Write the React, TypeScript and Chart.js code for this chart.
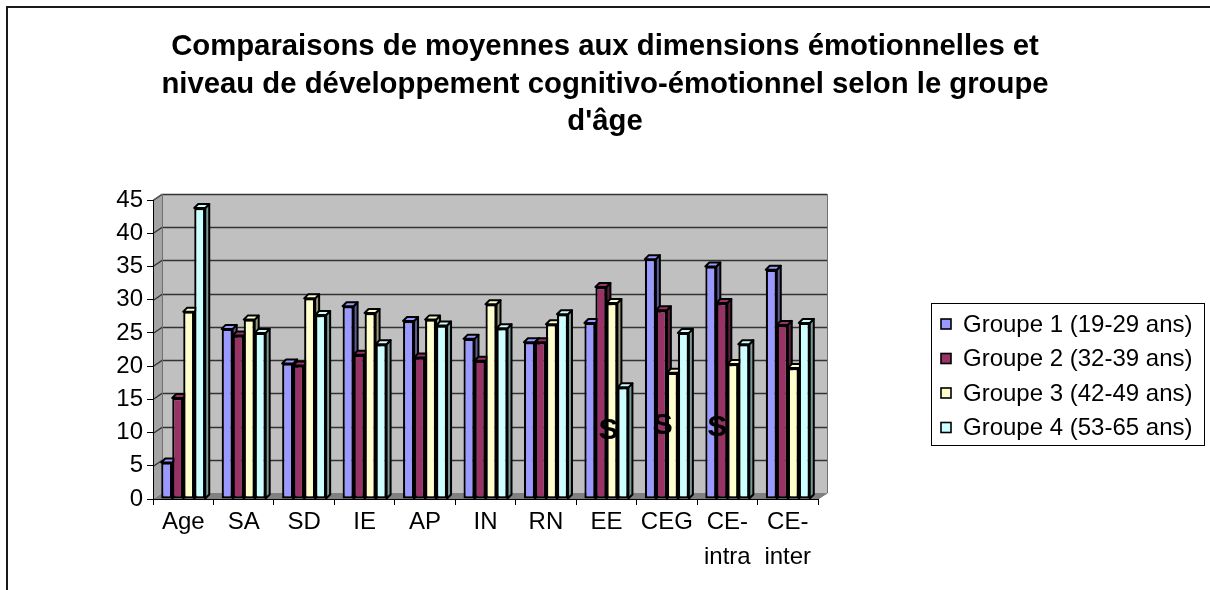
import React, { useEffect, useRef } from 'react';
import { Chart, registerables } from 'chart.js';

Chart.register(...registerables);

const FONT = '"Liberation Sans", Arial, sans-serif';

const titleLines = [
  'Comparaisons de moyennes aux dimensions émotionnelles et',
  'niveau de développement cognitivo-émotionnel selon le groupe',
  "d'âge",
];

const categories = ['Age', 'SA', 'SD', 'IE', 'AP', 'IN', 'RN', 'EE', 'CEG', 'CE-intra', 'CE-inter'];

const seriesNames = [
  'Groupe 1 (19-29 ans)',
  'Groupe 2 (32-39 ans)',
  'Groupe 3 (42-49 ans)',
  'Groupe 4 (53-65 ans)',
];

const group1 = [5.5, 25.6, 20.4, 29.0, 26.8, 24.1, 23.6, 26.5, 36.1, 35.0, 34.5];
const group2 = [15.2, 24.6, 20.1, 21.7, 21.3, 20.8, 23.6, 31.9, 28.4, 29.5, 26.2];
const group3 = [28.2, 27.0, 30.2, 28.0, 27.0, 29.3, 26.3, 29.5, 19.0, 20.3, 19.7];
const group4 = [43.8, 25.0, 27.7, 23.3, 26.1, 25.7, 27.8, 16.8, 25.0, 23.3, 26.5];

const yMin = 0;
const yMax = 45;
const yStep = 5;

// significance markers ("S") placed over categories, at a value on the y scale
const sigCategories = ['EE', 'CEG', 'CE-intra'];
const sigValues = [10.2, 11.1, 10.8];
const sigText = 'S';

const frontColors = ['#9999FF', '#993366', '#FFFFCC', '#CCFFFF'];
const sideColors = ['#5C5C99', '#5C1F3D', '#99997A', '#7A9999'];

const tickLabels = categories.map((c) => {
  const i = c.indexOf('-');
  return i > 0 ? [c.slice(0, i + 1), c.slice(i + 1)] : c;
});

const DX = 9;
const DY = 6;
const BDX = 4;
const BDY = 4;

const titlePlugin = {
  id: 'customTitle',
  afterDraw(chart: any) {
    const { ctx } = chart;
    ctx.save();
    ctx.fillStyle = '#000';
    ctx.font = `bold 29.3px ${FONT}`;
    ctx.textAlign = 'center';
    ctx.textBaseline = 'middle';
    titleLines.forEach((line, i) => {
      ctx.fillText(line, chart.width / 2, 47 + i * 37.5);
    });
    ctx.restore();
  },
};

const wallsPlugin = {
  id: 'walls3d',
  beforeDraw(chart: any) {
    const { ctx, chartArea } = chart;
    const { left, right, top, bottom } = chartArea;
    const yScale = chart.scales.y;
    ctx.save();
    ctx.fillStyle = '#C0C0C0';
    ctx.fillRect(left + DX, top - DY, right - left, bottom - top);
    ctx.fillStyle = '#A4A4A4';
    ctx.beginPath();
    ctx.moveTo(left, top);
    ctx.lineTo(left + DX, top - DY);
    ctx.lineTo(left + DX, bottom - DY);
    ctx.lineTo(left, bottom);
    ctx.closePath();
    ctx.fill();
    ctx.fillStyle = '#808080';
    ctx.beginPath();
    ctx.moveTo(left, bottom);
    ctx.lineTo(left + DX, bottom - DY);
    ctx.lineTo(right + DX, bottom - DY);
    ctx.lineTo(right, bottom);
    ctx.closePath();
    ctx.fill();
    ctx.strokeStyle = '#333333';
    ctx.lineWidth = 1.3;
    yScale.ticks.forEach((t: any) => {
      if (t.value === yMin) return;
      const y = Math.round(yScale.getPixelForValue(t.value)) + 0.5;
      ctx.beginPath();
      ctx.moveTo(left, y);
      ctx.lineTo(left + DX, y - DY);
      ctx.lineTo(right + DX, y - DY);
      ctx.stroke();
    });
    ctx.strokeStyle = '#707070';
    ctx.lineWidth = 1;
    ctx.beginPath();
    ctx.moveTo(left + DX + 0.5, bottom - DY);
    ctx.lineTo(left + DX + 0.5, top - DY);
    ctx.moveTo(right + DX + 0.5, top - DY);
    ctx.lineTo(right + DX + 0.5, bottom - DY);
    ctx.lineTo(right, bottom);
    ctx.moveTo(left, top);
    ctx.lineTo(left + DX, top - DY);
    ctx.stroke();
    ctx.restore();
  },
};

const bars3dPlugin = {
  id: 'bars3d',
  beforeDatasetsDraw(chart: any) {
    const { ctx } = chart;
    const n = chart.data.datasets.length;
    for (let d = 0; d < n; d++) {
      const meta = chart.getDatasetMeta(d);
      meta.data.forEach((bar: any) => {
        const { x, y, base, width } = bar.getProps(['x', 'y', 'base', 'width'], true);
        const l = x - width / 2;
        const r = x + width / 2;
        ctx.save();
        ctx.lineWidth = 2;
        ctx.strokeStyle = '#000';
        ctx.lineJoin = 'round';
        ctx.fillStyle = sideColors[d];
        ctx.beginPath();
        ctx.moveTo(r, y);
        ctx.lineTo(r + BDX, y - BDY);
        ctx.lineTo(r + BDX, base - BDY);
        ctx.lineTo(r, base);
        ctx.closePath();
        ctx.fill();
        ctx.stroke();
        ctx.fillStyle = frontColors[d];
        ctx.beginPath();
        ctx.moveTo(l, y);
        ctx.lineTo(l + BDX, y - BDY);
        ctx.lineTo(r + BDX, y - BDY);
        ctx.lineTo(r, y);
        ctx.closePath();
        ctx.fill();
        ctx.stroke();
        ctx.restore();
        bar.draw(ctx, chart.chartArea);
      });
    }
    return false;
  },
};

const sigPlugin = {
  id: 'sigMarks',
  afterDraw(chart: any) {
    const { ctx } = chart;
    const xs = chart.scales.x;
    const ys = chart.scales.y;
    const offsets = [2, -4, -10];
    ctx.save();
    ctx.fillStyle = '#000';
    ctx.font = `bold 30px ${FONT}`;
    ctx.textAlign = 'center';
    ctx.textBaseline = 'middle';
    sigCategories.forEach((c, i) => {
      const idx = categories.indexOf(c);
      const px = xs.getPixelForValue(idx) + offsets[i];
      const py = ys.getPixelForValue(sigValues[i]);
      ctx.fillText(sigText, px, py);
    });
    ctx.restore();
  },
};

const legendPlugin = {
  id: 'boxLegend',
  afterDraw(chart: any) {
    const { ctx } = chart;
    const LX = 931;
    const LY = 303;
    const LW = 273;
    const LH = 142;
    ctx.save();
    ctx.strokeStyle = '#000';
    ctx.lineWidth = 1;
    ctx.strokeRect(LX + 0.5, LY + 0.5, LW, LH);
    ctx.font = `24px ${FONT}`;
    ctx.textBaseline = 'middle';
    ctx.textAlign = 'left';
    chart.data.datasets.forEach((ds: any, i: number) => {
      const cy = LY + 21 + i * 34.5;
      ctx.fillStyle = ds.backgroundColor;
      ctx.fillRect(LX + 10, cy - 5, 10, 10);
      ctx.lineWidth = 1.6;
      ctx.strokeStyle = '#000';
      ctx.strokeRect(LX + 10, cy - 5, 10, 10);
      ctx.fillStyle = '#000';
      ctx.fillText(ds.label, LX + 32, cy + 1);
    });
    ctx.restore();
  },
};

export default function App() {
  const ref = useRef<HTMLCanvasElement>(null);

  useEffect(() => {
    const canvas = ref.current;
    if (!canvas) return;
    const seriesData = [group1, group2, group3, group4];
    const chart = new Chart(canvas, {
      type: 'bar',
      data: {
        labels: tickLabels as any,
        datasets: seriesData.map((data, i) => ({
          label: seriesNames[i],
          data,
          backgroundColor: frontColors[i],
          borderColor: '#000',
          borderWidth: 2.2,
          borderSkipped: false,
          categoryPercentage: 0.728,
          barPercentage: 1,
        })),
      },
      options: {
        animation: false,
        responsive: false,
        devicePixelRatio: 1,
        layout: { padding: { left: 0, right: 392, top: 200, bottom: 0 } },
        plugins: {
          legend: { display: false },
          tooltip: { enabled: false },
          title: { display: false },
        },
        scales: {
          x: {
            grid: {
              display: true,
              drawOnChartArea: false,
              drawTicks: true,
              tickLength: 6,
              color: '#000',
              offset: true,
            },
            border: { display: true, color: '#000', width: 1 },
            ticks: {
              color: '#000',
              font: { family: FONT, size: 24, lineHeight: 1.46 },
              padding: 0,
              maxRotation: 0,
              minRotation: 0,
              autoSkip: false,
            },
            afterFit: (s: any) => {
              s.height = 91;
            },
          },
          y: {
            min: yMin,
            max: yMax,
            grid: {
              display: true,
              drawOnChartArea: false,
              drawTicks: true,
              tickLength: 6,
              color: '#000',
            },
            border: { display: true, color: '#000', width: 1 },
            ticks: {
              stepSize: yStep,
              color: '#000',
              font: { family: FONT, size: 24 },
              padding: 4,
            },
            afterFit: (s: any) => {
              s.width = 153;
            },
          },
        },
      },
      plugins: [wallsPlugin, bars3dPlugin, sigPlugin, legendPlugin, titlePlugin],
    });
    return () => chart.destroy();
  }, []);

  return (
    <div
      style={{
        position: 'absolute',
        left: 0,
        top: 0,
        width: 1210,
        height: 590,
        overflow: 'hidden',
        background: '#fff',
      }}
    >
      <div
        style={{
          position: 'absolute',
          left: 6,
          top: 6,
          width: 1300,
          height: 700,
          borderTop: '2px solid #1a1a1a',
          borderLeft: '2px solid #1a1a1a',
        }}
      />
      <canvas
        ref={ref}
        width={1210}
        height={590}
        style={{ position: 'absolute', left: 0, top: 0, width: 1210, height: 590 }}
      />
    </div>
  );
}
